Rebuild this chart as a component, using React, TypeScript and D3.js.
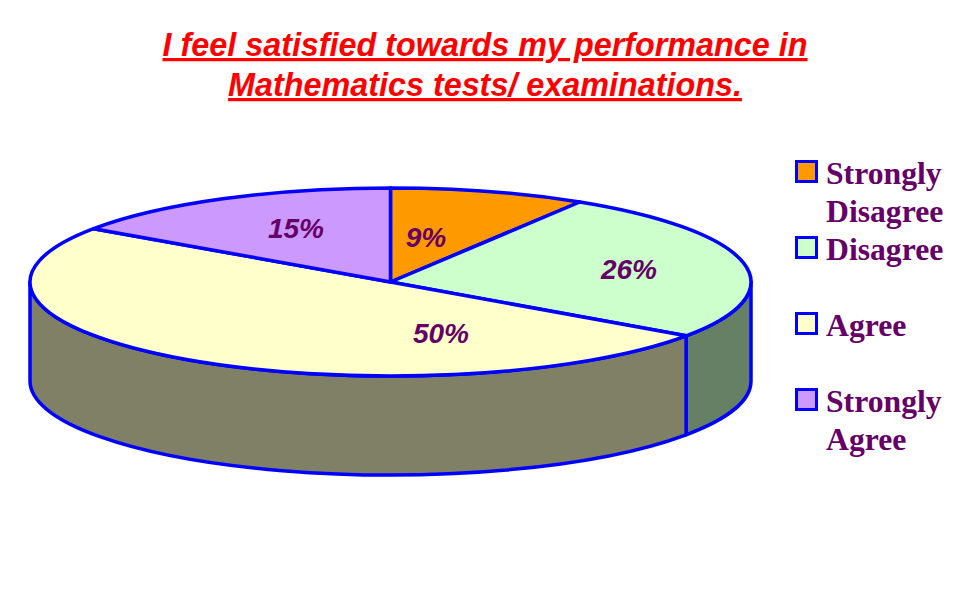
import React from "react";
import * as d3 from "d3";

const categories = ["Strongly Disagree", "Disagree", "Agree", "Strongly Agree"];
const values = [8.8, 25.9, 49.9, 15.4];
const topColors = ["#FF9900", "#CCFFCC", "#FFFFCC", "#CC99FF"];
const sideColors = ["#804C00", "#668066", "#808066", "#664C80"];
const legendLines = [["Strongly", "Disagree"], ["Disagree"], ["Agree"], ["Strongly", "Agree"]];
const labelTexts = ["9%", "26%", "50%", "15%"];
const titleLines = ["I feel satisfied towards my performance in", "Mathematics tests/ examinations."];

const W = 977, H = 600;
const cx = 390.5, cy = 282, rx = 360.5, ry = 94, depth = 99;
const BLUE = "#0000FF";
const TEXT = "#660066";

const pie = d3.pie<number>().sort(null).startAngle(0).endAngle(2 * Math.PI);
const arcs = pie(values);

const px = (a: number) => cx + rx * Math.sin(a);
const py = (a: number) => cy - ry * Math.cos(a);

function topPath(a0: number, a1: number) {
  const large = a1 - a0 > Math.PI ? 1 : 0;
  return `M${cx},${cy}L${px(a0)},${py(a0)}A${rx},${ry} 0 ${large} 1 ${px(a1)},${py(a1)}Z`;
}

function sidePath(a0: number, a1: number) {
  const s = Math.max(a0, Math.PI / 2);
  const e = Math.min(a1, (3 * Math.PI) / 2);
  if (e <= s) return null;
  return `M${px(s)},${py(s)}A${rx},${ry} 0 0 1 ${px(e)},${py(e)}L${px(e)},${py(e) + depth}A${rx},${ry} 0 0 0 ${px(s)},${py(s) + depth}Z`;
}

const labelX = d3.scaleOrdinal<string, number>().domain(labelTexts).range([426, 629, 441, 296]);
const labelY = d3.scaleOrdinal<string, number>().domain(labelTexts).range([247, 279, 343, 238]);
const legendY = d3.scaleBand<number>().domain(d3.range(categories.length)).range([153, 457]);

export default function App() {
  return (
    <svg width={W} height={H} style={{ position: "absolute", left: 0, top: 0, background: "#fff" }}>
      <g fontFamily="'Liberation Sans', Arial, sans-serif" fontWeight="bold" fontStyle="italic" fontSize={32.35} fill="#FF0000" textAnchor="middle">
        {titleLines.map((t, i) => (
          <text key={i} x={485} y={56 + i * 40} textDecoration="underline">{t}</text>
        ))}
      </g>
      <g stroke={BLUE} strokeWidth={3.5} strokeLinejoin="round">
        {arcs.map((d, i) => {
          const p = sidePath(d.startAngle, d.endAngle);
          return p ? <path key={i} d={p} fill={sideColors[i]} /> : null;
        })}
        {arcs.map((d, i) => (
          <path key={i} d={topPath(d.startAngle, d.endAngle)} fill={topColors[i]} />
        ))}
      </g>
      <g fontFamily="'Liberation Sans', Arial, sans-serif" fontWeight="bold" fontStyle="italic" fontSize={28} fill={TEXT} textAnchor="middle">
        {labelTexts.map((t) => (
          <text key={t} x={labelX(t)} y={labelY(t)}>{t}</text>
        ))}
      </g>
      <g>
        {categories.map((c, i) => {
          const y = legendY(i)!;
          return (
            <g key={c}>
              <rect x={796.5} y={y + 8.5} width={20} height={20} fill={topColors[i]} stroke={BLUE} strokeWidth={3} />
              {legendLines[i].map((l, j) => (
                <text key={j} x={826} y={y + 31 + j * 38} fontFamily="'Liberation Serif', 'Times New Roman', serif" fontWeight="bold" fontSize={31.7} fill={TEXT}>{l}</text>
              ))}
            </g>
          );
        })}
      </g>
    </svg>
  );
}
